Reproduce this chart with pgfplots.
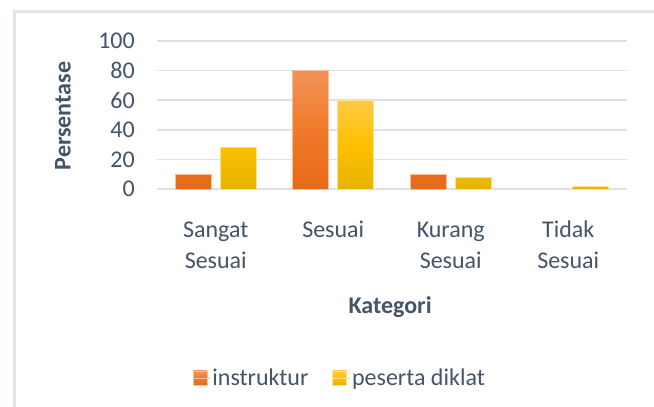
\documentclass[border=0pt]{standalone}
\usepackage{fontspec}
\setmainfont{Carlito}
\usepackage{pgfplots}
\pgfplotsset{compat=1.18}
\definecolor{txt}{HTML}{44546A}
\definecolor{gridc}{HTML}{DDE1E6}
\definecolor{framec}{HTML}{E1E5EA}
\definecolor{orT}{HTML}{F29358}
\definecolor{orB}{HTML}{E66A18}
\definecolor{orM}{HTML}{F07A2A}
\definecolor{yeT}{HTML}{FFCB45}
\definecolor{yeB}{HTML}{E5B400}
\definecolor{yeM}{HTML}{FFC000}
\newcommand{\st}{\rule{0pt}{17pt}}
\begin{document}
\begin{tikzpicture}[x=1pt,y=1pt]
\useasboundingbox (0,0) rectangle (654,407);
\clip (0,0) rectangle (654,407);
\fill[white] (0,0) rectangle (654,407);
\draw[framec,line width=3pt] (14,-20) -- (14,395) -- (700,395);
\begin{axis}[
  at={(157pt,218pt)}, anchor=south west,
  scale only axis, width=470pt, height=148pt,
  ybar=9pt, bar width=36pt,
  xmin=-0.5, xmax=3.5, ymin=0, ymax=100,
  ytick={0,20,40,60,80,100},
  xtick={0,1,2,3},
  xticklabels={{\st Sangat\\Sesuai},{\st Sesuai},{\st Kurang\\Sesuai},{\st Tidak\\Sesuai}},
  axis line style={draw=none},
  tick style={draw=none},
  ymajorgrids=true, xmajorgrids=false,
  y grid style={color=gridc,line width=1.5pt},
  /pgf/number format/assume math mode=true,
  tick label style={font=\fontsize{24}{31}\selectfont, text=txt},
  yticklabel style={inner sep=0pt, xshift=-22pt},
  xticklabel style={align=center, anchor=north, inner sep=0pt, yshift=-27.5pt},
  ylabel={\textbf{Persentase}},
  ylabel style={at={(axis description cs:-0.2,0.493)}, anchor=center, font=\fontsize{24}{28}\selectfont, text=txt},
  xlabel={\textbf{Kategori}},
  xlabel style={at={(axis description cs:0.496,-0.797)}, anchor=center, font=\fontsize{24}{28}\selectfont, text=txt},
  legend style={at={(axis description cs:0.389,-1.277)}, anchor=center, draw=none, fill=none,
    font=\fontsize{24}{28}\selectfont, text=txt,
    legend columns=2, /tikz/every even column/.append style={column sep=22pt}},
  legend image code/.code={\fill[#1] (0pt,-7pt) rectangle (14pt,7pt); \path (0pt,0pt) -- (17pt,0pt);},
  clip=false,
]
\addplot[draw=orT!60!white, line width=0.6pt, top color=orT, bottom color=orB, middle color=orM, fill=orM] coordinates {(0,10) (1,80) (2,10)};
\addplot[draw=yeT!60!white, line width=0.6pt, top color=yeT, bottom color=yeB, middle color=yeM, fill=yeM] coordinates {(0,28) (1,60) (2,8) (3,2)};
\legend{instruktur, peserta diklat}
\end{axis}
\end{tikzpicture}
\end{document}
